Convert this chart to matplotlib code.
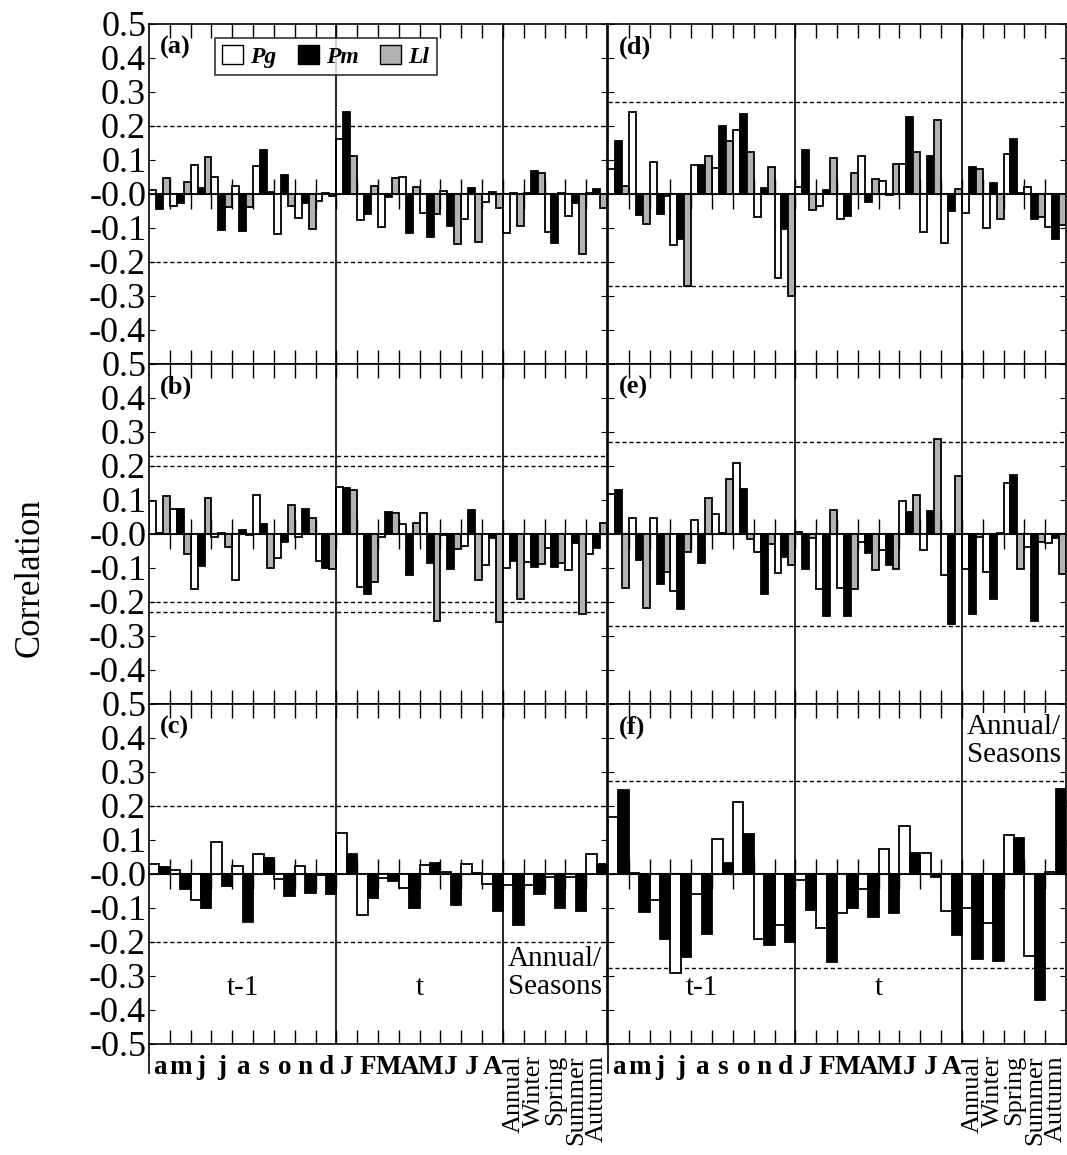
import numpy as np
import matplotlib.pyplot as plt
from matplotlib.patches import Patch

plt.rcParams['font.family'] = ['Liberation Serif', 'DejaVu Serif']

# month / season labels (t-1: Apr-Dec, t: Jan-Aug, then annual + seasons)
months_prev = ["a", "m", "j", "j", "a", "s", "o", "n", "d"]
months_cur = ["J", "F", "M", "A", "M", "J", "J", "A"]
seasons = ["Annual", "Winter", "Spring", "Summer", "Autumn"]

# panel (a)
pg_a = [0.012, -0.035, 0.085, 0.051, 0.024, 0.082, -0.119, -0.070, -0.020, 0.162, -0.076,
        -0.096, 0.051, -0.057, 0.009, -0.074, -0.023, -0.114, 0.003, -0.113, -0.065, 0.002]
pm_a = [-0.043, -0.027, 0.017, -0.106, -0.109, 0.128, 0.057, -0.027, 0.003, 0.240, -0.059,
        -0.008, -0.114, -0.125, -0.094, 0.017, 0.007, 0.002, 0.069, -0.145, -0.025, 0.014]
ll_a = [0.046, 0.036, 0.108, -0.037, -0.037, 0.005, -0.034, -0.104, -0.005, 0.112, 0.024,
        0.046, 0.022, -0.059, -0.147, -0.140, -0.042, -0.093, 0.061, 0.002, -0.175, -0.042]
# panel (b)
pg_b = [0.097, 0.073, -0.161, -0.008, -0.135, 0.115, -0.072, -0.009, -0.079, 0.137, -0.157,
        -0.008, 0.028, 0.061, -0.004, -0.034, -0.091, -0.101, -0.082, -0.040, -0.106, -0.058]
pm_b = [0.003, 0.073, -0.094, 0.004, 0.012, 0.028, -0.024, 0.075, -0.099, 0.135, -0.177,
        0.065, -0.120, -0.084, -0.104, 0.072, -0.011, -0.079, -0.096, -0.096, -0.027, -0.042]
ll_b = [0.112, -0.059, 0.107, -0.037, -0.004, -0.100, 0.086, 0.046, -0.102, 0.130, -0.141,
        0.063, 0.031, -0.255, -0.045, -0.136, -0.260, -0.192, -0.087, -0.086, -0.235, 0.032]
# panel (c)
pg_c = [0.028, 0.013, -0.075, 0.095, 0.024, 0.060, -0.016, 0.025, -0.003, 0.120, -0.120,
        -0.011, -0.042, 0.026, 0.007, 0.030, -0.028, -0.031, -0.033, -0.010, -0.008, 0.058]
pm_c = [0.022, -0.045, -0.100, -0.035, -0.140, 0.047, -0.065, -0.055, -0.060, 0.058, -0.070,
        -0.020, -0.100, 0.033, -0.090, 0.002, -0.110, -0.150, -0.060, -0.100, -0.110, 0.028]
# panel (d)
pg_d = [0.073, 0.242, 0.094, -0.150, 0.084, 0.077, 0.187, -0.069, -0.248, 0.020, -0.035,
        -0.073, 0.112, 0.038, 0.089, -0.111, -0.143, -0.057, -0.101, 0.118, 0.022, -0.098]
pm_d = [0.155, -0.062, -0.058, -0.133, 0.084, 0.199, 0.235, 0.019, -0.104, 0.128, 0.011,
        -0.064, -0.024, -0.003, 0.226, 0.113, -0.051, 0.080, 0.033, 0.162, -0.073, -0.133]
ll_d = [0.025, -0.089, -0.006, -0.272, 0.112, 0.157, 0.123, 0.080, -0.300, -0.047, 0.107,
        0.061, 0.045, 0.089, 0.123, 0.217, 0.014, 0.073, -0.073, 0.002, -0.069, -0.090]
# panel (e)
pg_e = [0.117, 0.048, 0.048, -0.169, 0.040, 0.058, 0.210, -0.052, -0.114, 0.006, -0.162,
        -0.158, -0.023, -0.047, 0.098, -0.046, -0.120, -0.102, -0.112, 0.150, -0.038, -0.027]
pm_e = [0.128, -0.075, -0.146, -0.220, -0.084, 0.002, 0.133, -0.177, -0.068, -0.102, -0.240,
        -0.240, -0.057, -0.092, 0.065, 0.067, -0.265, -0.235, -0.192, 0.175, -0.255, -0.011]
ll_e = [-0.159, -0.217, -0.113, -0.052, 0.105, 0.163, -0.015, -0.030, -0.091, -0.011, 0.070,
        -0.163, -0.107, -0.104, 0.115, 0.280, 0.171, -0.008, 0.002, -0.103, -0.023, -0.119]
# panel (f)
pg_f = [0.168, 0.004, -0.076, -0.290, -0.060, 0.102, 0.213, -0.190, -0.150, -0.017, -0.160,
        -0.114, -0.043, 0.075, 0.140, 0.061, -0.109, -0.100, -0.145, 0.114, -0.240, 0.006]
pm_f = [0.246, -0.112, -0.190, -0.245, -0.175, 0.031, 0.117, -0.210, -0.200, -0.107, -0.260,
        -0.100, -0.126, -0.114, 0.063, -0.009, -0.180, -0.250, -0.255, 0.107, -0.370, 0.249]

# significance thresholds per panel
sig = {"a": [0.2], "b": [0.2, 0.229], "c": [0.2], "d": [0.272], "e": [0.27], "f": [0.275]}

labels = months_prev + months_cur + seasons
n = len(labels)

fig = plt.figure(figsize=(10.67, 11.55), dpi=100)
W, H = 1067.0, 1155.0
col_x = [149, 608]
row_top = [24, 364, 704]
pw, ph = 458, 340

panels = {
    "a": (0, 0, [pg_a, pm_a, ll_a]),
    "b": (1, 0, [pg_b, pm_b, ll_b]),
    "c": (2, 0, [pg_c, pm_c]),
    "d": (0, 1, [pg_d, pm_d, ll_d]),
    "e": (1, 1, [pg_e, pm_e, ll_e]),
    "f": (2, 1, [pg_f, pm_f]),
}
colors = ["white", "black", "#b2b2b2"]
names = ["Pg", "Pm", "Ll"]
bounds = np.arange(1, n)
x = np.arange(n)
yt = np.round(np.arange(-0.5, 0.51, 0.1), 1)

for key, (r, c, series) in panels.items():
    ax = fig.add_axes([col_x[c] / W, 1 - (row_top[r] + ph) / H, pw / W, ph / H])
    k = len(series)
    w = 1.0 / k
    for j, vals in enumerate(series):
        ax.bar(x + w * (j + 0.5), vals, width=w, color=colors[j], edgecolor="black",
               linewidth=1.3, zorder=3)
    ax.set_xlim(0, n)
    ax.set_ylim(-0.5, 0.5)
    for s in sig[key]:
        ax.axhline(s, color="black", ls=(0, (3, 2)), lw=1.0, zorder=1)
        ax.axhline(-s, color="black", ls=(0, (3, 2)), lw=1.0, zorder=1)
    ax.axvline(9, color="black", lw=1.2, zorder=4)
    ax.axvline(17, color="black", lw=1.2, zorder=4)

    # zero line with ticks crossing it
    zax = ax.secondary_xaxis(0.5)
    zax.set_xticks(bounds)
    zax.tick_params(direction="inout", length=21, width=1.0, labelbottom=False,
                    labeltop=False)
    zax.spines["bottom"].set_linewidth(1.5)
    zax.spines["top"].set_linewidth(1.5)

    ax.set_xticks(bounds)
    ax.tick_params(axis="x", direction="in", length=10, width=1.0, top=True,
                   labelbottom=False)
    ax.set_yticks(yt)
    ax.tick_params(axis="y", direction="in", length=4, width=0.8, right=True)
    if c == 0:
        ylabs = ["%.1f" % v for v in yt]
        if r < 2:
            ylabs[0] = ""
        ax.set_yticklabels(ylabs, fontsize=26)
        ax.tick_params(axis="y", pad=2)
    else:
        ax.set_yticklabels([])
    for sp in ax.spines.values():
        sp.set_linewidth(1.2)

    ax.text(0.024, 0.965, "(%s)" % key, transform=ax.transAxes, fontsize=19,
            fontweight="bold", va="top", ha="left", zorder=6)

    if key == "a":
        handles = [Patch(facecolor=colors[j], edgecolor="black", linewidth=1.0)
                   for j in range(3)]
        leg = ax.legend(handles, names, loc="upper left", bbox_to_anchor=(0.118, 0.995),
                        ncol=3, frameon=True, fancybox=False, edgecolor="black",
                        handlelength=0.9, handleheight=0.9, handletextpad=0.3,
                        columnspacing=0.9, borderpad=0.3,
                        prop={"style": "italic", "weight": "bold", "size": 17})
        leg.get_frame().set_linewidth(1.2)
        leg.set_zorder(10)

    if r == 2:
        ax.set_xticks(x + 0.5, minor=True)
        ax.set_xticklabels(labels, minor=True)
        ax.tick_params(axis="x", which="minor", length=0, pad=8, labelbottom=True)
        for t, lab in zip(ax.get_xticklabels(minor=True), labels):
            if lab in seasons:
                t.set_rotation(90)
                t.set_fontsize(19)
                t.set_va("top")
            else:
                t.set_fontsize(19.5)
                t.set_fontweight("bold")
        # left spine runs on down past the bottom frame
        ax.plot([0, 0], [-0.5, -0.585], color="black", lw=1.2, clip_on=False)
        ax.text(4.5, -0.335, "t-1", fontsize=21, ha="center", va="center", zorder=6)
        ax.text(13.0, -0.335, "t", fontsize=21, ha="center", va="center", zorder=6)
        if key == "c":
            ax.text(19.5, -0.29, "Annual/\nSeasons", fontsize=21, ha="center", va="center",
                    linespacing=1.1, zorder=6,
                    bbox=dict(facecolor="white", edgecolor="none", pad=1))
        else:
            ax.text(19.5, 0.39, "Annual/\nSeasons", fontsize=21, ha="center", va="center",
                    linespacing=1.1, zorder=6,
                    bbox=dict(facecolor="white", edgecolor="none", pad=1))

fig.text(30 / W, 0.5, "Correlation", rotation=90, fontsize=25, ha="center", va="center")

fig.savefig("out.png", dpi=100)
